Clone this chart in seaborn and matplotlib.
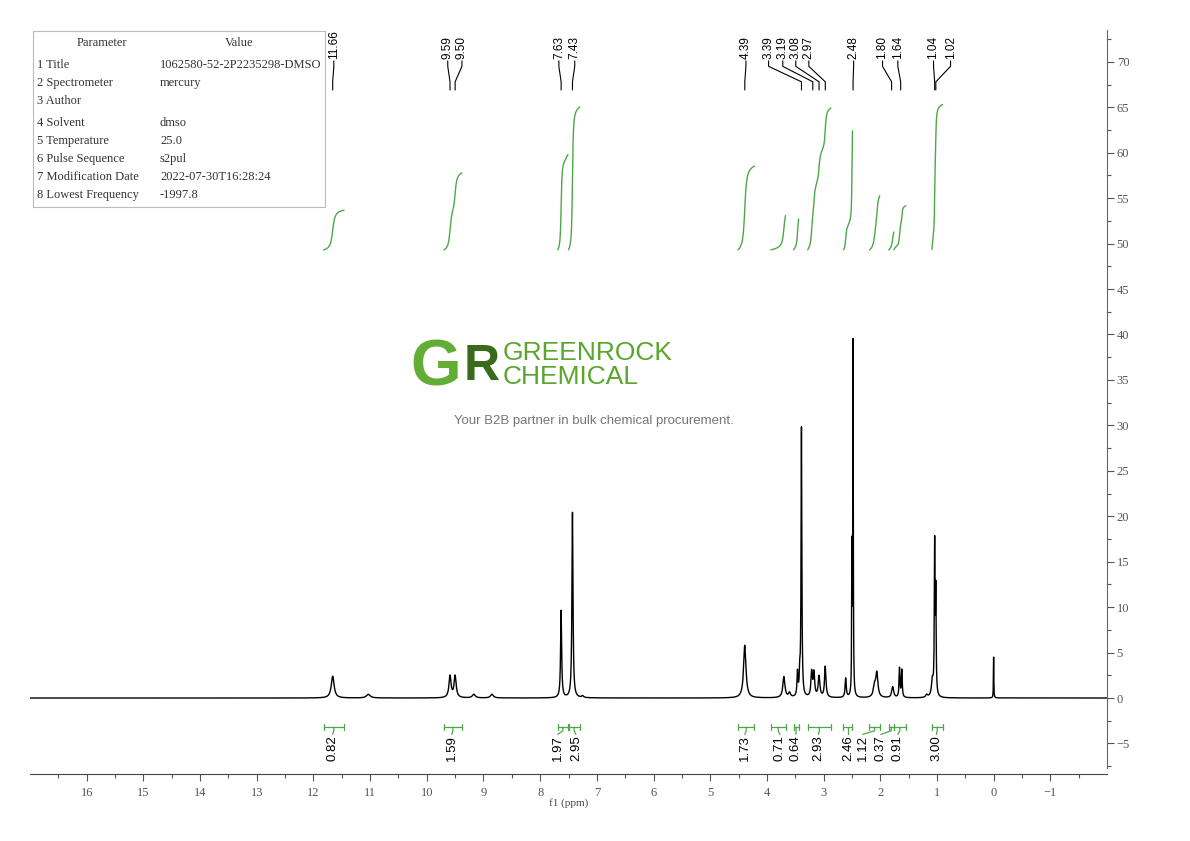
import numpy as np
import pandas as pd
import seaborn as sns
import matplotlib.pyplot as plt
from matplotlib.ticker import FixedLocator
from matplotlib.patches import Rectangle

# peaks: shift (ppm), height, half width (ppm)
peak_ppm = [11.66, 11.03, 9.59, 9.50, 9.17, 8.85, 7.63, 7.43, 7.25,
            4.39, 3.70, 3.60, 3.46, 3.42, 3.39, 3.21, 3.17, 3.08, 2.97,
            2.61, 2.50, 2.48, 2.10, 2.06, 1.78, 1.66, 1.62, 1.18, 1.08,
            1.04, 1.02, 0.00]
peak_height = [2.4, 0.4, 2.4, 2.4, 0.4, 0.4, 9.6, 20.4, 0.2,
               5.8, 2.3, 0.5, 2.6, 2.2, 29.5, 2.7, 2.6, 2.3, 3.4,
               2.1, 15.5, 38.6, 1.2, 2.6, 1.2, 3.2, 3.0, 0.3, 1.8,
               16.3, 11.0, 4.5]
peak_hwhm = [0.03, 0.04, 0.022, 0.022, 0.03, 0.03, 0.011, 0.011, 0.02,
             0.025, 0.022, 0.02, 0.01, 0.01, 0.008, 0.015, 0.015, 0.018, 0.015,
             0.012, 0.005, 0.005, 0.025, 0.022, 0.02, 0.009, 0.009, 0.02, 0.02,
             0.007, 0.007, 0.004]

# peak picking labels (text, where the label sits on the ppm axis)
shift_labels = ['11.66', '9.59', '9.50', '7.63', '7.43', '4.39', '3.39', '3.19',
                '3.08', '2.97', '2.48', '1.80', '1.64', '1.04', '1.02']
shift_label_pos = [11.64, 9.63, 9.38, 7.67, 7.39, 4.37, 3.97, 3.72,
                   3.49, 3.26, 2.47, 1.96, 1.69, 1.06, 0.76]

# integrals
int_values = [0.82, 1.59, 1.97, 2.95, 1.73, 0.71, 0.64, 2.93, 2.46, 1.12, 0.37, 0.91, 3.00]
int_start = [11.82, 9.70, 7.69, 7.50, 4.51, 3.93, 3.53, 3.28, 2.65, 2.19, 1.85, 1.76, 1.09]
int_end = [11.46, 9.38, 7.51, 7.30, 4.22, 3.67, 3.44, 2.87, 2.49, 2.01, 1.76, 1.55, 0.90]
int_label_pos = [11.66, 9.56, 7.69, 7.37, 4.39, 3.77, 3.49, 3.09, 2.57, 2.31, 1.99, 1.69, 1.01]

x_ticks = list(range(16, -2, -1))
x_minor = [16.5 - i for i in range(19)]
y_ticks = list(range(-5, 75, 5))
y_minor = [-7.5 + 5 * i for i in range(17)]

param_names = ['1 Title', '2 Spectrometer', '3 Author', '4 Solvent', '5 Temperature',
               '6 Pulse Sequence', '7 Modification Date', '8 Lowest Frequency']
param_values = ['1062580-52-2P2235298-DMSO', 'mercury', '', 'dmso', '25.0',
                's2pul', '2022-07-30T16:28:24', '-1997.8']

GREEN = '#4fa64a'
SERIF = ['Liberation Serif', 'DejaVu Serif']
SANS = ['Liberation Sans', 'DejaVu Sans']

sns.set_style('white')
plt.rcParams['font.family'] = SERIF

# build the spectrum from the peak table
grid = np.linspace(-2, 17, 19001)
spec = np.zeros_like(grid)
for p, h, w in zip(peak_ppm, peak_height, peak_hwhm):
    spec += h / (1 + ((grid - p) / w) ** 2)
df = pd.DataFrame({'ppm': grid, 'intensity': spec})

W, H = 1190, 841
fig = plt.figure(figsize=(11.9, 8.41), dpi=100)
ax = fig.add_axes([30 / W, 67 / H, 1077 / W, 744 / H])

sns.lineplot(data=df, x='ppm', y='intensity', ax=ax, color='black',
             linewidth=1.0, sort=False, estimator=None)

# integral curves and brackets
scale = 5.33
base = 49.3
for val, a, b, lx in zip(int_values, int_start, int_end, int_label_pos):
    m = (grid <= a) & (grid >= b)
    xs = grid[m][::-1]
    cs = np.cumsum(spec[m][::-1])
    cs = cs / cs[-1] * val * scale + base
    sns.lineplot(x=xs, y=cs, ax=ax, color=GREEN, linewidth=1.0,
                 sort=False, estimator=None)
    c = (a + b) / 2
    ax.plot([a, b], [-3.2, -3.2], color=GREEN, lw=0.9)
    ax.plot([a, a], [-2.85, -3.55], color=GREEN, lw=0.9)
    ax.plot([b, b], [-2.85, -3.55], color=GREEN, lw=0.9)
    ax.plot([c, c, lx], [-3.2, -3.6, -4.0], color=GREEN, lw=0.9)
    ax.text(lx, -4.1, f'{val:.2f}', rotation=90, ha='center', va='top',
            fontsize=9.5, family=SANS, color='black')

# peak labels at the top
for lab, lx in zip(shift_labels, shift_label_pos):
    p = float(lab)
    ax.plot([lx, lx, p, p], [70.1, 69.5, 67.8, 66.9], color='black', lw=0.8)
    ax.text(lx, 70.3, lab, rotation=90, ha='center', va='bottom',
            fontsize=8.5, family=SANS, color='black')

ax.set_xlim(17, -2)
ax.set_ylim(-8.36, 73.5)
ax.set_xticks(x_ticks)
ax.xaxis.set_minor_locator(FixedLocator(x_minor))
ax.set_yticks(y_ticks)
ax.yaxis.set_minor_locator(FixedLocator(y_minor))
ax.yaxis.tick_right()
ax.set_ylabel('')
ax.set_xlabel('f1 (ppm)', fontsize=8, color='#444', labelpad=0)
ax.tick_params(axis='both', which='major', direction='out', length=5, width=0.8,
               colors='#555', labelsize=9)
ax.tick_params(axis='both', which='minor', direction='out', length=3, width=0.8,
               colors='#555')
ax.tick_params(axis='y', which='both', right=True, left=False, pad=2)
ax.tick_params(axis='x', which='both', bottom=True, pad=4)
for s in ['left', 'top']:
    ax.spines[s].set_visible(False)
ax.spines['right'].set_color('#666')
ax.spines['bottom'].set_color('#444')
ax.spines['right'].set_bounds(-7.7, 73.5)

# parameter table
fig.patches.append(Rectangle((33 / W, 1 - 207 / H), 292 / W, 176 / H,
                             transform=fig.transFigure, fill=False,
                             edgecolor='#bbb', lw=0.8))
fig.text(102 / W, 1 - 43 / H, 'Parameter', ha='center', va='center', fontsize=9, color='#333')
fig.text(239 / W, 1 - 43 / H, 'Value', ha='center', va='center', fontsize=9, color='#333')
row_y = [65, 83, 101, 123, 141, 159, 177, 195]
for ry, n, v in zip(row_y, param_names, param_values):
    fig.text(37 / W, 1 - ry / H, n, ha='left', va='center', fontsize=9, color='#333')
    fig.text(160 / W, 1 - ry / H, v, ha='left', va='center', fontsize=9, color='#333')

# watermark logo
fig.text(410 / W, 1 - 369 / H, 'G', ha='left', va='center', fontsize=47,
         fontweight='bold', family=SANS, color='#62ad34')
fig.text(464 / W, 1 - 367 / H, 'R', ha='left', va='center', fontsize=36,
         fontweight='bold', family=SANS, color='#3a6b1d')
fig.text(503 / W, 1 - 365 / H, 'GREENROCK\nCHEMICAL', ha='left', va='center',
         multialignment='left', fontsize=19, linespacing=0.95,
         family=SANS, color='#5aa62c')
fig.text(594 / W, 1 - 421 / H, 'Your B2B partner in bulk chemical procurement.',
         ha='center', va='center', fontsize=9.5, family=SANS, color='#777')

fig.savefig('out.png', dpi=100)
